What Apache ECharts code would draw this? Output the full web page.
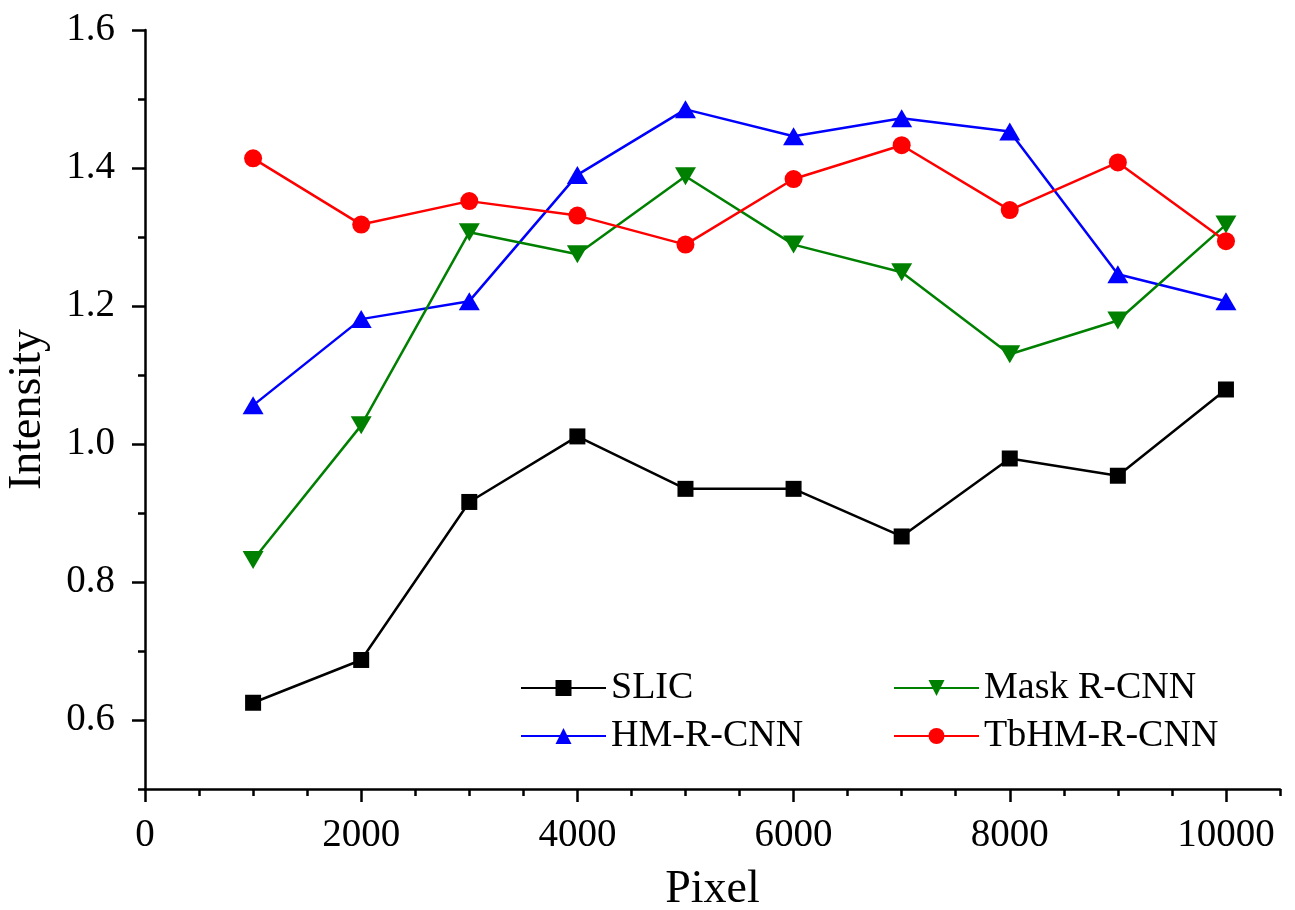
<!DOCTYPE html>
<html>
<head>
<meta charset="utf-8">
<script src="https://cdn.jsdelivr.net/npm/echarts@6/dist/echarts.min.js"></script>
<style>
  html, body { margin: 0; padding: 0; background: #fff; }
  #main { width: 1295px; height: 910px; }
</style>
</head>
<body>
<div id="main"></div>
<script>
// pixel sizes on x
var pixels = [1000, 2000, 3000, 4000, 5000, 6000, 7000, 8000, 9000, 10000];

// intensity per method
var slic = [0.625, 0.687, 0.916, 1.011, 0.935, 0.935, 0.866, 0.979, 0.954, 1.079];
var maskRcnn = [0.832, 1.027, 1.307, 1.275, 1.388, 1.289, 1.249, 1.130, 1.179, 1.318];
var hmRcnn = [1.056, 1.181, 1.207, 1.390, 1.485, 1.446, 1.472, 1.453, 1.246, 1.207];
var tbhmRcnn = [1.414, 1.318, 1.352, 1.331, 1.289, 1.384, 1.433, 1.339, 1.408, 1.294];

// tick positions
var xMajor = [0, 2000, 4000, 6000, 8000, 10000];
var xMinor = [500, 1000, 1500, 2500, 3000, 3500, 4500, 5000, 5500, 6500, 7000, 7500, 8500, 9000, 9500, 10500];
var yMajor = [0.6, 0.8, 1.0, 1.2, 1.4, 1.6];
var yMinor = [0.5, 0.7, 0.9, 1.1, 1.3, 1.5];

function pairs(ys) {
    return pixels.map(function (x, i) { return [x, ys[i]]; });
}

var font = '"Liberation Serif", "Times New Roman", serif';
var axisCol = '#000';

var chart = echarts.init(document.getElementById('main'));

var legendText = { fontFamily: font, fontSize: 38, color: '#000', lineHeight: 40 };

var option = {
    animation: false,
    backgroundColor: '#fff',
    grid: { left: 145, right: 15, top: 30, bottom: 121, outerBoundsMode: 'none', containLabel: false },
    legend: [
        {
            orient: 'vertical',
            left: 515, top: 663,
            itemWidth: 85, itemHeight: 20, itemGap: 8,
            textStyle: legendText,
            data: ['SLIC', 'HM-R-CNN']
        },
        {
            orient: 'vertical',
            left: 888, top: 663,
            itemWidth: 85, itemHeight: 20, itemGap: 8,
            textStyle: legendText,
            data: ['Mask R-CNN', 'TbHM-R-CNN']
        }
    ],
    xAxis: [
        {
            type: 'value',
            min: 0, max: 10500, interval: 500,
            name: 'Pixel',
            nameLocation: 'middle',
            nameGap: 78,
            nameTextStyle: { fontFamily: font, fontSize: 46, color: '#000' },
            axisLine: { lineStyle: { color: axisCol, width: 2.5 } },
            axisTick: { length: 13, customValues: xMajor, lineStyle: { color: axisCol, width: 2.5 } },
            axisLabel: {
                fontFamily: font, fontSize: 39, color: '#000', margin: 27,
                customValues: xMajor,
                formatter: function (v) { return String(v); }
            },
            splitLine: { show: false }
        },
        {
            // minor ticks only
            type: 'value', position: 'bottom',
            min: 0, max: 10500, interval: 500,
            axisLine: { show: false },
            axisTick: { length: 7, customValues: xMinor, lineStyle: { color: axisCol, width: 2.5 } },
            axisLabel: { show: false },
            splitLine: { show: false }
        }
    ],
    yAxis: [
        {
            type: 'value',
            min: 0.5, max: 1.6, interval: 0.1,
            name: 'Intensity',
            nameLocation: 'middle',
            nameGap: 94,
            nameTextStyle: { fontFamily: font, fontSize: 46, color: '#000' },
            axisLine: { show: true, lineStyle: { color: axisCol, width: 2.5 } },
            axisTick: { show: true, length: 13, customValues: yMajor, lineStyle: { color: axisCol, width: 2.5 } },
            axisLabel: {
                fontFamily: font, fontSize: 39, color: '#000', margin: 30,
                customValues: yMajor,
                formatter: function (v) { return v.toFixed(1); }
            },
            splitLine: { show: false }
        },
        {
            // minor ticks only
            type: 'value', position: 'left',
            min: 0.5, max: 1.6, interval: 0.1,
            axisLine: { show: false },
            axisTick: { show: true, length: 7, customValues: yMinor, lineStyle: { color: axisCol, width: 2.5 } },
            axisLabel: { show: false },
            splitLine: { show: false }
        }
    ],
    series: [
        {
            name: 'SLIC', type: 'line', data: pairs(slic),
            symbol: 'rect', symbolSize: 16,
            lineStyle: { color: '#000', width: 2.5 },
            itemStyle: { color: '#000' }
        },
        {
            name: 'HM-R-CNN', type: 'line', data: pairs(hmRcnn),
            symbol: 'triangle', symbolSize: [21, 18],
            lineStyle: { color: '#0000ff', width: 2.5 },
            itemStyle: { color: '#0000ff' }
        },
        {
            name: 'Mask R-CNN', type: 'line', data: pairs(maskRcnn),
            symbol: 'triangle', symbolRotate: 180, symbolSize: [21, 18],
            lineStyle: { color: '#008000', width: 2.5 },
            itemStyle: { color: '#008000' }
        },
        {
            name: 'TbHM-R-CNN', type: 'line', data: pairs(tbhmRcnn),
            symbol: 'circle', symbolSize: 18,
            lineStyle: { color: '#ff0000', width: 2.5 },
            itemStyle: { color: '#ff0000' }
        }
    ]
};

chart.setOption(option);
</script>
</body>
</html>
